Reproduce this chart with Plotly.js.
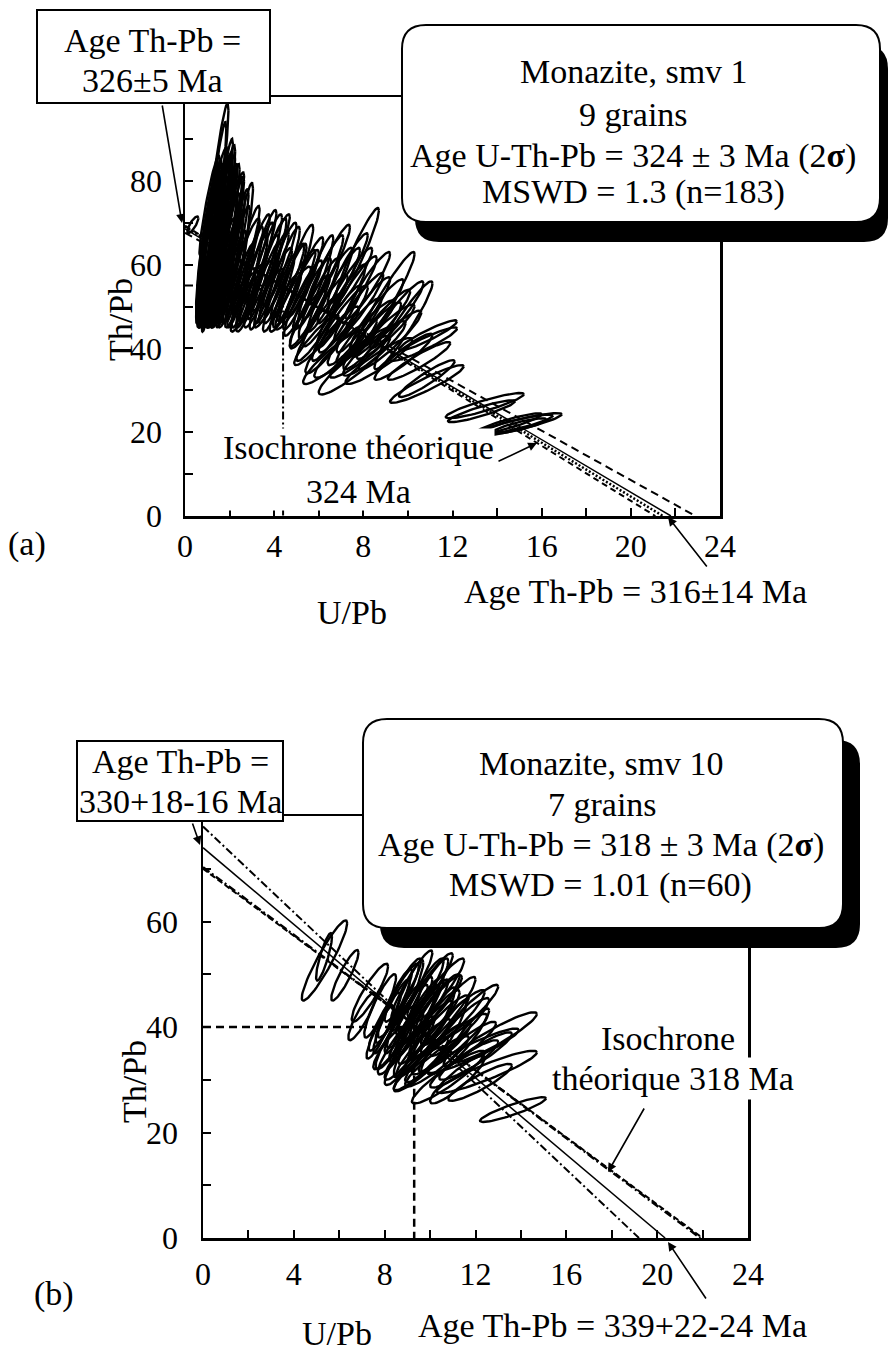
<!DOCTYPE html>
<html>
<head>
<meta charset="utf-8">
<script src="https://cdn.plot.ly/plotly-3.0.1.min.js"></script>
<style>html,body{margin:0;padding:0;background:#fff}#chart{width:889px;height:1355px}</style>
</head>
<body>
<div id="chart"></div>
<script>
// ===== Panel (a): Monazite smv 1 — ellipse data (centre U/Pb, Th/Pb, 2σ U/Pb, 2σ Th/Pb, error correlation)
const aUPb  = [1.35,1.30,1.65,1.95,2.45,1.00,1.10,1.20,1.40,1.50,1.60,1.75,1.85,0.95,1.05,1.25,1.45,1.70,2.00,2.10,2.30,1.15,1.55,0.90,1.35,1.90,2.20,1.60,1.20,1.00,1.40,1.80,
               1.05,1.15,1.30,1.50,1.70,1.90,2.05,2.25,0.85,0.95,1.20,1.45,1.70,2.00,2.35,1.10,1.40,1.75,2.10,1.55,
               2.60,3.55,4.35,4.95,5.85,3.00,3.60,4.70,3.20,3.90,2.80,4.20,5.20,2.50,3.40,
               2.70,2.90,3.10,3.30,3.50,3.75,3.80,4.05,4.25,4.50,4.60,4.85,5.05,5.40,5.50,5.70,2.60,4.00,
               7.70,8.90,9.80,6.50,7.00,6.00,7.50,8.00,5.60,6.80,7.60,8.40,7.20,7.60,8.50,6.20,5.30,8.80,9.20,6.50,7.40,9.50,
               6.00,6.30,6.60,6.90,7.10,7.30,7.80,8.10,8.20,8.60,6.70,7.90,8.70,5.90,9.00,
               10.70,10.85,10.85,10.90,10.50,9.80,
               13.45,14.85,14.90,15.00,14.50,13.30,
               0.35];
const aThPb = [74.5,71.0,68.0,64.0,63.0,65.0,62.0,66.0,63.0,60.0,64.0,61.0,66.0,60.0,68.0,58.0,69.0,58.0,59.0,62.0,60.0,57.0,56.0,64.0,61.0,56.0,57.0,72.0,70.0,57.0,59.0,70.0,
               63.0,66.0,64.0,66.0,65.0,62.0,65.0,63.0,58.0,52.0,53.0,52.0,54.0,53.0,54.0,74.0,77.0,76.0,72.0,69.0,
               60.0,60.0,57.5,58.0,56.0,56.0,55.0,55.0,58.0,57.0,57.0,53.0,54.0,55.0,62.0,
               62.0,52.0,61.0,53.0,57.0,52.0,60.0,55.0,60.0,51.0,56.0,52.0,55.0,57.0,47.0,53.0,51.0,63.0,
               62.0,50.5,45.5,54.0,50.0,52.0,53.0,48.0,49.0,46.0,44.0,43.0,40.0,36.0,40.0,57.0,52.0,46.0,42.0,60.0,56.0,48.0,
               45.0,49.0,42.0,55.0,47.0,59.0,50.0,44.0,55.0,48.0,38.0,39.0,37.0,42.0,44.0,
               41.0,31.5,32.8,43.1,37.0,38.0,
               26.35,21.7,21.9,21.5,22.0,25.0,
               69.5];
const aSigU  = [0.60,0.55,0.60,0.60,0.60,0.50,0.55,0.60,0.60,0.55,0.60,0.60,0.60,0.45,0.50,0.50,0.55,0.55,0.60,0.60,0.60,0.45,0.50,0.40,0.50,0.50,0.55,0.55,0.50,0.40,0.45,0.55,
               0.45,0.50,0.55,0.55,0.55,0.55,0.60,0.60,0.35,0.35,0.40,0.45,0.50,0.50,0.55,0.45,0.50,0.50,0.55,0.60,
               0.75,0.80,0.80,0.80,0.80,0.70,0.70,0.75,0.75,0.75,0.70,0.70,0.80,0.60,0.70,
               0.65,0.60,0.70,0.65,0.70,0.65,0.75,0.75,0.75,0.70,0.75,0.80,0.80,0.80,0.80,0.85,0.55,0.70,
               1.00,1.40,1.30,1.00,1.10,0.90,1.10,1.20,0.90,1.10,1.20,1.30,1.40,1.60,1.40,0.90,0.85,1.30,1.40,0.90,1.00,1.20,
               1.00,1.00,1.20,0.95,1.10,0.90,1.10,1.30,1.00,1.20,1.40,1.40,1.50,1.00,1.30,
               1.50,1.65,1.25,1.30,1.40,1.30,
               1.75,2.05,1.60,1.20,1.50,1.50,
               0.25];
const aSigTh = [24,23,20.5,17,16.5,19,17,18,18,15,19,16,18,14,16,13,17,13,13,15,14,12,11,15,15,11,11,15,14,12,14,14,
               17,19,20,20,18,15,16,15,11,7,8,7,9,8,9,12,11,10,10,21,
               11,12,11.5,11.5,11,11,10.5,10,12,11,12,9,9.5,10,11,
               12,8,11,8,10,7,11,9,10,7,9,7.5,8.5,9.5,7,8.5,7,9,
               11.5,12.5,10.5,10,10,9.5,9,9,8.5,9,8,8,7,7,6.5,10,9,8,7,9.5,8,8,
               8,8.5,8,9,8,8.5,8,7.5,8,8.5,6.5,6,5.5,6,6.5,
               4.0,4.5,4.4,3.6,4.5,5.5,
               3.0,2.85,2.3,1.8,2.5,2.6,
               2.0];
const aRho   = [0.93,0.93,0.93,0.92,0.92,0.92,0.92,0.93,0.92,0.92,0.93,0.92,0.93,0.90,0.92,0.90,0.93,0.90,0.90,0.92,0.92,0.90,0.90,0.90,0.92,0.90,0.90,0.92,0.92,0.90,0.90,0.92,
               0.92,0.93,0.93,0.93,0.93,0.92,0.93,0.92,0.88,0.85,0.88,0.88,0.90,0.90,0.90,0.92,0.92,0.92,0.92,0.94,
               0.93,0.93,0.93,0.93,0.93,0.92,0.92,0.92,0.93,0.93,0.92,0.92,0.92,0.92,0.93,
               0.93,0.90,0.93,0.90,0.92,0.90,0.93,0.92,0.93,0.90,0.92,0.90,0.92,0.93,0.90,0.92,0.88,0.93,
               0.95,0.96,0.95,0.94,0.94,0.93,0.94,0.94,0.93,0.94,0.93,0.93,0.92,0.92,0.92,0.94,0.93,0.94,0.93,0.94,0.94,0.94,
               0.93,0.93,0.93,0.94,0.93,0.94,0.94,0.93,0.94,0.94,0.92,0.92,0.92,0.92,0.93,
               0.93,0.93,0.93,0.93,0.93,0.93,
               0.90,0.90,0.88,0.85,0.90,0.90,
               0.80];
// Panel (a) lines: intercepts on Th/Pb axis (U/Pb = 0) and U/Pb axis (Th/Pb = 0)
const aLineNames = ['Régression', 'Enveloppe haute', 'Enveloppe basse', 'Isochrone théorique 324 Ma'];
const aLineThPb0 = [68.5, 67.6, 69.3, 69.0];
const aLineUPb0  = [21.8, 22.9, 21.1, 21.44];
const aCentroid  = [4.4, 55];

// ===== Panel (b): Monazite smv 10
const bUPb  = [5.35,5.33,6.25,7.35,7.80,8.30,8.60,9.00,9.90,8.50,9.20,9.60,10.20,10.80,11.30,9.00,9.70,10.50,11.00,11.60,12.80,12.50,11.50,10.80,11.20,9.50,8.20,7.80,9.30,10.00,10.60,12.00,13.65,8.80,11.90,10.30,12.20,7.00,9.30,10.40,
               8.40,8.80,9.20,9.60,10.00,10.40,9.00,9.40,9.80,10.20,8.70,9.10,9.80,10.40,11.00,9.60,10.20,11.40,8.00,11.80];
const bThPb = [52.6,53.3,49.8,46.5,44.0,42.0,45.0,46.0,46.5,38.0,40.0,43.0,41.0,43.0,40.0,35.0,36.0,36.0,37.0,38.0,38.0,31.5,33.0,30.5,30.0,32.0,36.0,39.0,38.5,39.5,38.0,34.5,24.35,41.5,35.5,33.5,29.5,42.0,44.0,44.8,
               44.0,47.0,48.0,46.0,48.0,47.0,42.0,41.0,43.0,44.0,37.0,36.0,39.0,40.0,41.0,33.0,35.0,36.0,41.0,43.0];
const bSigU  = [1.00,0.35,0.60,0.80,0.70,0.80,0.90,0.70,0.90,0.90,1.00,1.00,1.10,1.20,1.30,1.00,1.20,1.30,1.50,1.00,1.90,2.20,1.50,1.60,1.20,1.10,0.70,0.60,0.90,1.10,1.00,1.60,1.45,0.80,2.00,1.40,1.40,0.60,0.80,1.00,
               0.80,0.80,0.90,1.00,1.00,1.10,0.90,1.00,1.00,1.10,1.00,1.10,1.20,1.30,1.40,1.20,1.30,1.50,0.70,1.20];
const bSigTh = [7.6,4.5,4.8,5.5,6.0,7.0,7.0,6.7,6.5,6.0,6.5,6.5,6.0,6.5,5.5,6.0,5.5,5.0,5.5,5.5,4.8,4.0,4.5,5.0,4.5,4.2,4.0,5.0,8.0,8.0,7.0,4.5,2.35,6.5,4.2,4.8,3.5,4.5,5.5,5.0,
               7.0,6.0,6.5,7.0,6.0,6.0,6.0,7.0,6.0,6.0,6.0,6.0,6.0,6.0,6.0,5.0,5.5,5.0,5.5,5.0];
const bRho   = [0.93,0.85,0.90,0.90,0.90,0.92,0.92,0.92,0.92,0.90,0.92,0.92,0.92,0.93,0.93,0.90,0.92,0.92,0.93,0.93,0.93,0.92,0.92,0.92,0.90,0.90,0.88,0.90,0.93,0.94,0.93,0.92,0.90,0.92,0.93,0.92,0.90,0.88,0.90,0.92,
               0.92,0.92,0.93,0.93,0.93,0.93,0.92,0.93,0.93,0.93,0.92,0.92,0.93,0.93,0.93,0.92,0.92,0.93,0.90,0.93];
const bLineNames = ['Régression', 'Enveloppe haute', 'Enveloppe basse', 'Isochrone théorique 318 Ma'];
const bLineThPb0 = [74.0, 78.0, 70.0, 70.3];
const bLineUPb0  = [20.35, 19.2, 22.0, 21.9];
const bCentroid  = [9.3, 40];

// ===== helpers
const W = 889, H = 1355;
const FONT = '"Liberation Serif", "Times New Roman", serif';
const PX = v => v / W, PY = v => 1 - v / H;

function ellipses(u, th, su, sth, rho, xa, ya) {
  const xs = [], ys = [];
  for (let k = 0; k < u.length; k++) {
    const s = Math.sqrt(1 - rho[k] * rho[k]);
    for (let i = 0; i <= 72; i++) {
      const t = 2 * Math.PI * i / 72;
      xs.push(u[k] + su[k] * Math.cos(t));
      ys.push(th[k] + sth[k] * (rho[k] * Math.cos(t) + s * Math.sin(t)));
    }
    xs.push(null); ys.push(null);
  }
  return {type: 'scatter', mode: 'lines', x: xs, y: ys, xaxis: xa, yaxis: ya,
          line: {color: '#000', width: 2.4}, hoverinfo: 'skip', showlegend: false};
}
function isoLine(th0, u0, xa, ya, dash, width) {
  return {type: 'scatter', mode: 'lines', x: [0, u0], y: [th0, 0], xaxis: xa, yaxis: ya,
          line: {color: '#000', width: width, dash: dash}, hoverinfo: 'skip', showlegend: false};
}
function guide(c, xa, ya, dash, width) {
  return {type: 'scatter', mode: 'lines', x: [0, c[0], c[0]], y: [c[1], c[1], 0], xaxis: xa, yaxis: ya,
          line: {color: '#000', width: width, dash: dash}, hoverinfo: 'skip', showlegend: false};
}

const aStyles = [['solid', 1.5], ['8px,5px', 2], ['6px,4px', 2], ['2px,2px', 2.5]];
const bStyles = [['solid', 1.5], ['8px,3px,2px,3px', 2], ['6px,3px', 2], ['8px,3px,2px,3px', 2.5]];

const traces = [];
traces.push(guide(aCentroid, 'x', 'y', '8px,3px,2px,3px', 2));
aLineThPb0.forEach((v, i) => traces.push(isoLine(v, aLineUPb0[i], 'x', 'y', aStyles[i][0], aStyles[i][1])));
traces.push(ellipses(aUPb, aThPb, aSigU, aSigTh, aRho, 'x', 'y'));
traces.push(guide(bCentroid, 'x2', 'y2', '8px,5px', 2.5));
bLineThPb0.forEach((v, i) => traces.push(isoLine(v, bLineUPb0[i], 'x2', 'y2', bStyles[i][0], bStyles[i][1])));
traces.push(ellipses(bUPb, bThPb, bSigU, bSigTh, bRho, 'x2', 'y2'));

function axisBase(extra) {
  return Object.assign({
    showline: true, linecolor: '#000', linewidth: 2.5, mirror: true,
    showgrid: false, zeroline: false,
    ticks: 'inside', ticklen: 8, tickwidth: 2, tickcolor: '#000',
    tickfont: {family: FONT, size: 32, color: '#000'},
    fixedrange: true
  }, extra);
}

function roundRect(x0, y0, x1, y1, r) {
  const X = v => (v / W).toFixed(5), Y = v => (1 - v / H).toFixed(5);
  return `M${X(x0 + r)},${Y(y0)} L${X(x1 - r)},${Y(y0)} Q${X(x1)},${Y(y0)} ${X(x1)},${Y(y0 + r)} ` +
         `L${X(x1)},${Y(y1 - r)} Q${X(x1)},${Y(y1)} ${X(x1 - r)},${Y(y1)} ` +
         `L${X(x0 + r)},${Y(y1)} Q${X(x0)},${Y(y1)} ${X(x0)},${Y(y1 - r)} ` +
         `L${X(x0)},${Y(y0 + r)} Q${X(x0)},${Y(y0)} ${X(x0 + r)},${Y(y0)} Z`;
}
function rbox(x0, y0, x1, y1, r, fill, lw) {
  return {type: 'path', xref: 'paper', yref: 'paper', path: roundRect(x0, y0, x1, y1, r),
          fillcolor: fill, line: {color: '#000', width: lw}, layer: 'above'};
}
function sbox(x0, y0, x1, y1) {
  return {type: 'rect', xref: 'paper', yref: 'paper', x0: PX(x0), x1: PX(x1), y0: PY(y1), y1: PY(y0),
          fillcolor: '#fff', line: {color: '#000', width: 2}, layer: 'above'};
}
const shapes = [
  sbox(37, 10, 270, 103),
  rbox(415, 45, 888, 242, 24, '#000', 0),
  rbox(402, 25, 880, 222, 24, '#fff', 2),
  sbox(77, 741, 283, 821),
  rbox(380, 740, 860, 948, 24, '#000', 0),
  rbox(363, 719, 843, 928, 24, '#fff', 2)
];

function txt(text, x, y, opts) {
  return Object.assign({text: text, xref: 'paper', yref: 'paper', x: PX(x), y: PY(y),
    xanchor: 'center', yanchor: 'middle', showarrow: false,
    font: {family: FONT, size: 34, color: '#000'}}, opts || {});
}
function arrow(hx, hy, tx, ty) {
  return {text: '', xref: 'paper', yref: 'paper', x: PX(hx), y: PY(hy), ax: tx - hx, ay: ty - hy,
    showarrow: true, arrowhead: 2, arrowsize: 1.1, arrowwidth: 1.6, arrowcolor: '#000', standoff: 0, startstandoff: 0};
}
const annotations = [
  // panel (a)
  txt('Age Th-Pb =', 152, 40),
  txt('326±5 Ma', 152, 81),
  txt('Monazite, smv 1', 634, 72),
  txt('9 grains', 633, 115),
  txt('Age U-Th-Pb = 324 ± 3 Ma (2<b>σ</b>)', 633, 156),
  txt('MSWD = 1.3 (n=183)', 633, 192),
  txt('Isochrone théorique<br>324 Ma', 358, 470, {bgcolor: '#fff', borderpad: 0}),
  txt('Age Th-Pb = 316±14 Ma', 635, 591),
  txt('U/Pb', 352, 612),
  txt('(a)', 27, 544),
  txt('Th/Pb', 120, 320, {textangle: -90}),
  arrow(182, 223, 162, 104),
  arrow(668, 517, 708, 568),
  arrow(537, 443, 497, 462),
  // panel (b)
  txt('Age Th-Pb =', 180, 761),
  txt('330+18-16 Ma', 180, 801),
  txt('Monazite, smv 10', 601, 763),
  txt('7 grains', 602, 805),
  txt('Age U-Th-Pb = 318 ± 3 Ma (2<b>σ</b>)', 601, 845),
  txt('MSWD = 1.01 (n=60)', 600, 885),
  txt('Isochrone', 668, 1038, {bgcolor: '#fff', borderpad: 2}),
  txt('théorique 318 Ma', 673, 1078, {bgcolor: '#fff', borderpad: 2}),
  txt('Age Th-Pb = 339+22-24 Ma', 612, 1325),
  txt('U/Pb', 337, 1333),
  txt('(b)', 54, 1294),
  txt('Th/Pb', 134, 1082, {textangle: -90}),
  arrow(200, 845, 192, 822),
  arrow(608, 1172, 645, 1107),
  arrow(668, 1242, 707, 1300)
];

const layout = {
  width: W, height: H,
  margin: {l: 0, r: 0, t: 0, b: 0},
  paper_bgcolor: '#fff', plot_bgcolor: '#fff',
  showlegend: false, hovermode: false,
  xaxis: axisBase({domain: [PX(185), PX(720)], range: [0, 24], anchor: 'y',
    tickvals: [0, 4, 8, 12, 16, 20, 24], ticklabelstandoff: 0,
    minor: {tick0: 0, dtick: 2, ticks: 'inside', ticklen: 8, tickwidth: 2, tickcolor: '#000'}}),
  yaxis: axisBase({domain: [PY(516), PY(97)], range: [0, 100], anchor: 'x',
    tickvals: [0, 20, 40, 60, 80], ticklabelstandoff: 14,
    minor: {tick0: 0, dtick: 10, ticks: 'inside', ticklen: 8, tickwidth: 2, tickcolor: '#000'}}),
  xaxis2: axisBase({domain: [PX(203), PX(748)], range: [0, 24], anchor: 'y2',
    tickvals: [0, 4, 8, 12, 16, 20, 24], ticklabelstandoff: 6,
    minor: {tick0: 0, dtick: 2, ticks: 'inside', ticklen: 8, tickwidth: 2, tickcolor: '#000'}}),
  yaxis2: axisBase({domain: [PY(1238), PY(816)], range: [0, 80], anchor: 'x2',
    tickvals: [0, 20, 40, 60], ticklabelstandoff: 16,
    minor: {tick0: 0, dtick: 10, ticks: 'inside', ticklen: 8, tickwidth: 2, tickcolor: '#000'}}),
  shapes: shapes,
  annotations: annotations
};

Plotly.newPlot('chart', traces, layout, {staticPlot: true, displayModeBar: false});
</script>
</body>
</html>
